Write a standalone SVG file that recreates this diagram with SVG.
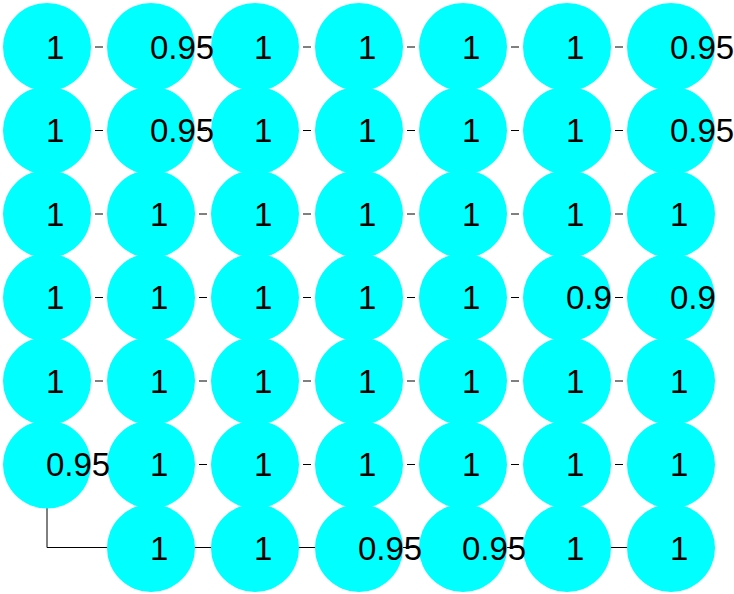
<svg xmlns="http://www.w3.org/2000/svg" width="734" height="594" viewBox="0 0 734 594">
<style>
.n circle{fill:#00ffff}
.n text{font-family:"Liberation Sans",Arial,sans-serif;font-size:33px;fill:#000}
.e{stroke:#000;stroke-width:1;fill:none}
.s{stroke:#000;stroke-width:1;fill:none}
</style>
<rect width="734" height="594" fill="#fff"/>
<g id="connectors">
<path class="e" d="M95,47h8M199,47h8M303,47h8M407,47h8M511,47h8M615,47h8"/>
<path class="e" d="M95,130.5h8M199,130.5h8M303,130.5h8M407,130.5h8M511,130.5h8M615,130.5h8"/>
<path class="e" d="M95,214h8M199,214h8M303,214h8M407,214h8M511,214h8M615,214h8"/>
<path class="e" d="M95,297.5h8M199,297.5h8M303,297.5h8M407,297.5h8M511,297.5h8M615,297.5h8"/>
<path class="e" d="M95,381h8M199,381h8M303,381h8M407,381h8M511,381h8M615,381h8"/>
<path class="e" d="M199,464.5h8M303,464.5h8M407,464.5h8M511,464.5h8M615,464.5h8"/>
<path class="s" d="M47,464.5V547.5H671"/>
</g>
<g id="nodes">
<g id="n1_7" class="n"><circle cx="671" cy="47" r="44"/><text x="670" y="58.5">0.95</text></g>
<g id="n2_7" class="n"><circle cx="671" cy="130.5" r="44"/><text x="670" y="142">0.95</text></g>
<g id="n3_7" class="n"><circle cx="671" cy="214" r="44"/><text x="670" y="225.5">1</text></g>
<g id="n4_7" class="n"><circle cx="671" cy="297.5" r="44"/><text x="670" y="309">0.9</text></g>
<g id="n5_7" class="n"><circle cx="671" cy="381" r="44"/><text x="670" y="392.5">1</text></g>
<g id="n6_7" class="n"><circle cx="671" cy="464.5" r="44"/><text x="670" y="476">1</text></g>
<g id="n7_7" class="n"><circle cx="671" cy="548" r="44"/><text x="670" y="559.5">1</text></g>
<g id="n1_6" class="n"><circle cx="567" cy="47" r="44"/><text x="566" y="58.5">1</text></g>
<g id="n2_6" class="n"><circle cx="567" cy="130.5" r="44"/><text x="566" y="142">1</text></g>
<g id="n3_6" class="n"><circle cx="567" cy="214" r="44"/><text x="566" y="225.5">1</text></g>
<g id="n4_6" class="n"><circle cx="567" cy="297.5" r="44"/><text x="566" y="309">0.9</text></g>
<g id="n5_6" class="n"><circle cx="567" cy="381" r="44"/><text x="566" y="392.5">1</text></g>
<g id="n6_6" class="n"><circle cx="567" cy="464.5" r="44"/><text x="566" y="476">1</text></g>
<g id="n7_6" class="n"><circle cx="567" cy="548" r="44"/><text x="566" y="559.5">1</text></g>
<g id="n1_5" class="n"><circle cx="463" cy="47" r="44"/><text x="462" y="58.5">1</text></g>
<g id="n2_5" class="n"><circle cx="463" cy="130.5" r="44"/><text x="462" y="142">1</text></g>
<g id="n3_5" class="n"><circle cx="463" cy="214" r="44"/><text x="462" y="225.5">1</text></g>
<g id="n4_5" class="n"><circle cx="463" cy="297.5" r="44"/><text x="462" y="309">1</text></g>
<g id="n5_5" class="n"><circle cx="463" cy="381" r="44"/><text x="462" y="392.5">1</text></g>
<g id="n6_5" class="n"><circle cx="463" cy="464.5" r="44"/><text x="462" y="476">1</text></g>
<g id="n7_5" class="n"><circle cx="463" cy="548" r="44"/><text x="462" y="559.5">0.95</text></g>
<g id="n1_4" class="n"><circle cx="359" cy="47" r="44"/><text x="358" y="58.5">1</text></g>
<g id="n2_4" class="n"><circle cx="359" cy="130.5" r="44"/><text x="358" y="142">1</text></g>
<g id="n3_4" class="n"><circle cx="359" cy="214" r="44"/><text x="358" y="225.5">1</text></g>
<g id="n4_4" class="n"><circle cx="359" cy="297.5" r="44"/><text x="358" y="309">1</text></g>
<g id="n5_4" class="n"><circle cx="359" cy="381" r="44"/><text x="358" y="392.5">1</text></g>
<g id="n6_4" class="n"><circle cx="359" cy="464.5" r="44"/><text x="358" y="476">1</text></g>
<g id="n7_4" class="n"><circle cx="359" cy="548" r="44"/><text x="358" y="559.5">0.95</text></g>
<g id="n1_3" class="n"><circle cx="255" cy="47" r="44"/><text x="254" y="58.5">1</text></g>
<g id="n2_3" class="n"><circle cx="255" cy="130.5" r="44"/><text x="254" y="142">1</text></g>
<g id="n3_3" class="n"><circle cx="255" cy="214" r="44"/><text x="254" y="225.5">1</text></g>
<g id="n4_3" class="n"><circle cx="255" cy="297.5" r="44"/><text x="254" y="309">1</text></g>
<g id="n5_3" class="n"><circle cx="255" cy="381" r="44"/><text x="254" y="392.5">1</text></g>
<g id="n6_3" class="n"><circle cx="255" cy="464.5" r="44"/><text x="254" y="476">1</text></g>
<g id="n7_3" class="n"><circle cx="255" cy="548" r="44"/><text x="254" y="559.5">1</text></g>
<g id="n1_2" class="n"><circle cx="151" cy="47" r="44"/><text x="150" y="58.5">0.95</text></g>
<g id="n2_2" class="n"><circle cx="151" cy="130.5" r="44"/><text x="150" y="142">0.95</text></g>
<g id="n3_2" class="n"><circle cx="151" cy="214" r="44"/><text x="150" y="225.5">1</text></g>
<g id="n4_2" class="n"><circle cx="151" cy="297.5" r="44"/><text x="150" y="309">1</text></g>
<g id="n5_2" class="n"><circle cx="151" cy="381" r="44"/><text x="150" y="392.5">1</text></g>
<g id="n6_2" class="n"><circle cx="151" cy="464.5" r="44"/><text x="150" y="476">1</text></g>
<g id="n7_2" class="n"><circle cx="151" cy="548" r="44"/><text x="150" y="559.5">1</text></g>
<g id="n1_1" class="n"><circle cx="47" cy="47" r="44"/><text x="46" y="58.5">1</text></g>
<g id="n2_1" class="n"><circle cx="47" cy="130.5" r="44"/><text x="46" y="142">1</text></g>
<g id="n3_1" class="n"><circle cx="47" cy="214" r="44"/><text x="46" y="225.5">1</text></g>
<g id="n4_1" class="n"><circle cx="47" cy="297.5" r="44"/><text x="46" y="309">1</text></g>
<g id="n5_1" class="n"><circle cx="47" cy="381" r="44"/><text x="46" y="392.5">1</text></g>
<g id="n6_1" class="n"><circle cx="47" cy="464.5" r="44"/><text x="46" y="476">0.95</text></g>
</g>
</svg>
